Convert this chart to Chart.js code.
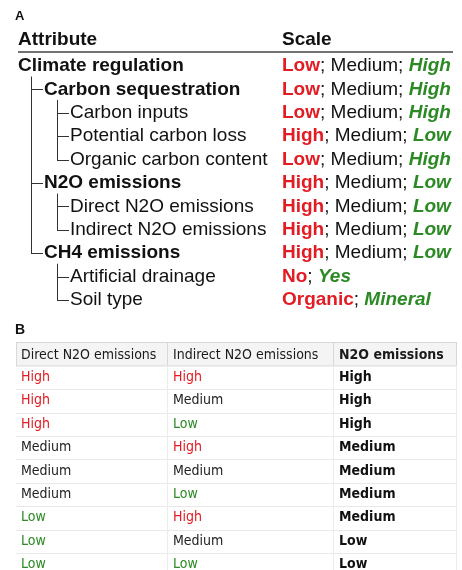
<!DOCTYPE html>
<html>
<head>
<meta charset="utf-8">
<script src="https://cdn.jsdelivr.net/npm/chart.js@4.4.1/dist/chart.umd.min.js"></script>
<style>
    html, body { margin: 0; padding: 0; background: #fff; }
    #wrap { position: relative; width: 462px; height: 570px; overflow: hidden; }
    .panel { position: absolute; left: 0; width: 462px; }
    #panelA { top: 0; height: 318px; }
    #panelB { top: 318px; height: 252px; }
</style>
</head>
<body>
<div id="wrap">
    <div class="panel" id="panelA"><canvas id="chartA"></canvas></div>
    <div class="panel" id="panelB"><canvas id="chartB"></canvas></div>
</div>
<script>
// Panel A: attribute tree and its scale
const attributes = ["Climate regulation", "Carbon sequestration", "Carbon inputs", "Potential carbon loss",
    "Organic carbon content", "N2O emissions", "Direct N2O emissions", "Indirect N2O emissions",
    "CH4 emissions", "Artificial drainage", "Soil type"];
const levels = [0, 1, 2, 2, 2, 1, 2, 2, 1, 2, 2];
const scaleLabels = [
    ["Low", "Medium", "High"], ["Low", "Medium", "High"], ["Low", "Medium", "High"],
    ["High", "Medium", "Low"], ["Low", "Medium", "High"], ["High", "Medium", "Low"],
    ["High", "Medium", "Low"], ["High", "Medium", "Low"], ["High", "Medium", "Low"],
    ["No", "Yes"], ["Organic", "Mineral"]
];
const headersA = ["Attribute", "Scale"];

// Panel B: N2O emissions lookup table
const headersB = ["Direct N2O emissions", "Indirect N2O emissions", "N2O emissions"];
const directN2O = ["High", "High", "High", "Medium", "Medium", "Medium", "Low", "Low", "Low"];
const indirectN2O = ["High", "Medium", "Low", "High", "Medium", "Low", "High", "Medium", "Low"];
const n2oEmissions = ["High", "High", "High", "Medium", "Medium", "Medium", "Medium", "Low", "Low"];

const RED = "#e31b23";
const GREEN = "#2b8a24";
const DARK = "#111";
const ROW = 23.4; // row pitch in pixels, used to set the y ranges
const FONT_A = "19px 'Liberation Sans', Arial, sans-serif";
const FONT_B = "14px 'DejaVu Sans Condensed', 'DejaVu Sans', Verdana, sans-serif";

// x positions (in px units of the hidden x scale)
const indentX = [18, 44, 70];
const treeLineX = [0, 31, 57];
const scaleX = 282;
const colX = [21, 173, 339];
const colSep = [167, 333];

function baseOptions(yMin, yMax) {
    return {
        responsive: true,
        maintainAspectRatio: false,
        animation: false,
        events: [],
        layout: { padding: 0 },
        plugins: { legend: { display: false }, tooltip: { enabled: false } },
        scales: {
            x: { type: "linear", display: false, min: 0, max: 462 },
            y: { type: "linear", display: false, min: yMin, max: yMax, reverse: true }
        }
    };
}

// Draws the tree panel
const treePlugin = {
    id: "treePlugin",
    afterDatasetsDraw(chart) {
        const ctx = chart.ctx;
        const xs = chart.scales.x, ys = chart.scales.y;
        const pts = chart.getDatasetMeta(0).data;
        ctx.save();
        ctx.textBaseline = "middle";
        ctx.fillStyle = DARK;

        // panel letter and headers
        ctx.font = "bold 13px 'Liberation Sans', Arial, sans-serif";
        ctx.fillText("A", xs.getPixelForValue(15), ys.getPixelForValue(-2.1));
        ctx.font = "bold " + FONT_A;
        ctx.fillText(headersA[0], xs.getPixelForValue(indentX[0]), ys.getPixelForValue(-1.1));
        ctx.fillText(headersA[1], xs.getPixelForValue(scaleX), ys.getPixelForValue(-1.1));

        // header rule
        ctx.strokeStyle = "#444";
        ctx.lineWidth = 1.5;
        ctx.beginPath();
        ctx.moveTo(xs.getPixelForValue(18), ys.getPixelForValue(-0.6));
        ctx.lineTo(xs.getPixelForValue(453), ys.getPixelForValue(-0.6));
        ctx.stroke();

        // tree connectors
        ctx.strokeStyle = "#333";
        ctx.lineWidth = 1;
        attributes.forEach((a, i) => {
            const lv = levels[i];
            // vertical line down to the last child
            let last = -1;
            for (let j = i + 1; j < attributes.length && levels[j] > lv; j++) {
                if (levels[j] === lv + 1) last = j;
            }
            if (last >= 0) {
                const lx = Math.round(xs.getPixelForValue(treeLineX[lv + 1])) + 0.5;
                ctx.beginPath();
                ctx.moveTo(lx, pts[i].y + ROW * 0.45);
                ctx.lineTo(lx, Math.round(pts[last].y) + 0.5);
                ctx.stroke();
            }
            if (lv > 0) {
                const y = Math.round(pts[i].y) + 0.5;
                ctx.beginPath();
                ctx.moveTo(xs.getPixelForValue(treeLineX[lv]), y);
                ctx.lineTo(pts[i].x - 1, y);
                ctx.stroke();
            }
        });

        // labels and scales
        attributes.forEach((a, i) => {
            const y = pts[i].y;
            ctx.fillStyle = DARK;
            ctx.font = (levels[i] < 2 ? "bold " : "") + FONT_A;
            ctx.fillText(a, pts[i].x, y);

            const parts = scaleLabels[i];
            let x = xs.getPixelForValue(scaleX);
            parts.forEach((p, k) => {
                if (k === 0) {
                    ctx.font = "bold " + FONT_A;
                    ctx.fillStyle = RED;
                } else if (k === parts.length - 1) {
                    ctx.font = "italic bold " + FONT_A;
                    ctx.fillStyle = GREEN;
                } else {
                    ctx.font = FONT_A;
                    ctx.fillStyle = DARK;
                }
                ctx.fillText(p, x, y);
                x += ctx.measureText(p).width;
                if (k < parts.length - 1) {
                    ctx.font = FONT_A;
                    ctx.fillStyle = DARK;
                    ctx.fillText("; ", x, y);
                    x += ctx.measureText("; ").width;
                }
            });
        });
        ctx.restore();
    }
};

// Draws the lookup table
const tablePlugin = {
    id: "tablePlugin",
    afterDatasetsDraw(chart) {
        const ctx = chart.ctx;
        const xs = chart.scales.x, ys = chart.scales.y;
        const left = xs.getPixelForValue(16), right = xs.getPixelForValue(456);
        const n = directN2O.length;
        ctx.save();
        ctx.textBaseline = "middle";

        ctx.fillStyle = DARK;
        ctx.font = "bold 14px 'Liberation Sans', Arial, sans-serif";
        ctx.fillText("B", xs.getPixelForValue(15), ys.getPixelForValue(-1.0));

        // header band
        const hTop = ys.getPixelForValue(-0.5), hBot = ys.getPixelForValue(0.5);
        ctx.fillStyle = "#f4f4f4";
        ctx.fillRect(left, hTop, right - left, hBot - hTop);
        ctx.strokeStyle = "#d8d8d8";
        ctx.lineWidth = 1;
        ctx.strokeRect(Math.round(left) + 0.5, Math.round(hTop) + 0.5, right - left, hBot - hTop);

        // row rules
        ctx.strokeStyle = "#e9e9e9";
        for (let r = 1; r <= n; r++) {
            const y = Math.round(ys.getPixelForValue(r + 0.5)) + 0.5;
            ctx.beginPath();
            ctx.moveTo(left, y);
            ctx.lineTo(right, y);
            ctx.stroke();
        }
        // column rules
        colSep.concat([456]).forEach(c => {
            const x = Math.round(xs.getPixelForValue(c)) + 0.5;
            ctx.strokeStyle = "#d8d8d8";
            ctx.beginPath();
            ctx.moveTo(x, hTop);
            ctx.lineTo(x, hBot);
            ctx.stroke();
            ctx.strokeStyle = "#ececec";
            ctx.beginPath();
            ctx.moveTo(x, hBot);
            ctx.lineTo(x, ys.getPixelForValue(n + 0.5));
            ctx.stroke();
        });

        // header text
        headersB.forEach((h, c) => {
            ctx.font = (c === 2 ? "bold " : "") + FONT_B;
            ctx.fillStyle = "#1a1a1a";
            ctx.fillText(h, xs.getPixelForValue(colX[c]), ys.getPixelForValue(0.05));
        });

        const colour = v => v === "High" ? RED : (v === "Low" ? GREEN : "#222");
        const metas = [0, 1, 2].map(d => chart.getDatasetMeta(d).data);
        const cols = [directN2O, indirectN2O, n2oEmissions];
        cols.forEach((col, c) => {
            col.forEach((v, r) => {
                const p = metas[c][r];
                ctx.font = (c === 2 ? "bold " : "") + FONT_B;
                ctx.fillStyle = c === 2 ? "#111" : colour(v);
                ctx.fillText(v, p.x, p.y);
            });
        });
        ctx.restore();
    }
};

new Chart(document.getElementById("chartA"), {
    type: "scatter",
    data: {
        datasets: [{
            data: attributes.map((a, i) => ({ x: indentX[levels[i]], y: i })),
            pointRadius: 0
        }]
    },
    options: baseOptions(-2.82, -2.82 + 318 / ROW),
    plugins: [treePlugin]
});

new Chart(document.getElementById("chartB"), {
    type: "scatter",
    data: {
        datasets: [directN2O, indirectN2O, n2oEmissions].map((col, c) => ({
            data: col.map((v, r) => ({ x: colX[c], y: r + 1 })),
            pointRadius: 0
        }))
    },
    options: baseOptions(-1.54, -1.54 + 252 / ROW),
    plugins: [tablePlugin]
});
</script>
</body>
</html>
